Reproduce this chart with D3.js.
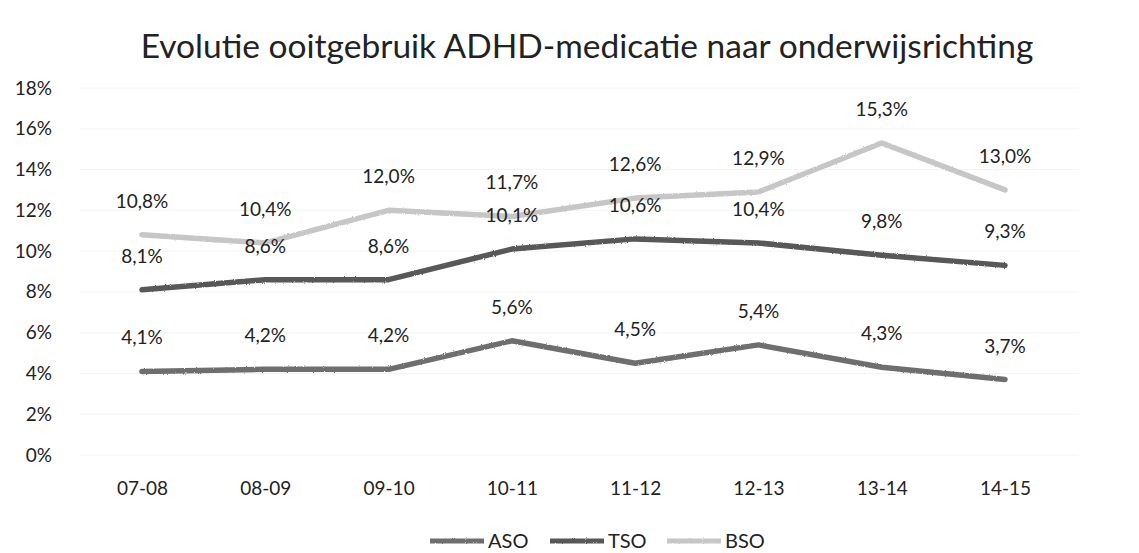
<!DOCTYPE html>
<html>
<head>
<meta charset="utf-8">
<script src="https://cdn.jsdelivr.net/npm/d3@7"></script>
<style>
  body { margin: 0; background: #fff; }
  svg { font-family: Lato, "Open Sans", sans-serif; }
</style>
</head>
<body>
<div id="chart"></div>
<script>
// categories (school years)
const years = ['07-08', '08-09', '09-10', '10-11', '11-12', '12-13', '13-14', '14-15'];

// series values (%)
const aso = [4.1, 4.2, 4.2, 5.6, 4.5, 5.4, 4.3, 3.7];
const tso = [8.1, 8.6, 8.6, 10.1, 10.6, 10.4, 9.8, 9.3];
const bso = [10.8, 10.4, 12.0, 11.7, 12.6, 12.9, 15.3, 13.0];

const yTicks = [0, 2, 4, 6, 8, 10, 12, 14, 16, 18];
const seriesNames = ['ASO', 'TSO', 'BSO'];
const seriesColors = ['#6e6e6e', '#585858', '#c6c6c6'];

const width = 1139;
const height = 553;
const margin = { top: 88, right: 134, bottom: 98, left: 142 };

const svg = d3.select('#chart')
  .append('svg')
  .attr('width', width)
  .attr('height', height);

// speckled "scanned" look for the lines
const defs = svg.append('defs');
const filt = defs.append('filter')
  .attr('id', 'grain')
  .attr('filterUnits', 'userSpaceOnUse')
  .attr('x', -width).attr('y', -height)
  .attr('width', width * 3).attr('height', height * 3);
filt.append('feTurbulence')
  .attr('type', 'fractalNoise')
  .attr('baseFrequency', 0.9)
  .attr('numOctaves', 1)
  .attr('result', 'noise');
filt.append('feDisplacementMap')
  .attr('in', 'SourceGraphic')
  .attr('in2', 'noise')
  .attr('scale', 2.5);

const x = d3.scalePoint()
  .domain(years)
  .range([margin.left, width - margin.right]);

const y = d3.scaleLinear()
  .domain([0, 18])
  .range([height - margin.bottom, margin.top]);

// title
svg.append('text')
  .attr('x', 587)
  .attr('y', 58)
  .attr('text-anchor', 'middle')
  .style('font-size', '33.5px')
  .style('fill', '#222')
  .text('Evolutie ooitgebruik ADHD-medicatie naar onderwijsrichting');

// faint gridlines
svg.append('g')
  .selectAll('line')
  .data(yTicks)
  .enter().append('line')
  .attr('x1', 80)
  .attr('x2', width - 60)
  .attr('y1', d => y(d))
  .attr('y2', d => y(d))
  .style('stroke', '#f4f4f4')
  .style('stroke-width', 1);

// Y axis
const yAxis = d3.axisLeft(y)
  .tickValues(yTicks)
  .tickFormat(d => d + '%')
  .tickSize(0)
  .tickPadding(0);

svg.append('g')
  .attr('class', 'y axis')
  .attr('transform', 'translate(52,0)')
  .call(yAxis)
  .call(g => g.select('.domain').remove())
  .selectAll('text')
  .style('font-size', '19px')
  .style('font-family', 'Lato, sans-serif')
  .style('fill', '#222');

// X axis
const xAxis = d3.axisBottom(x).tickSize(0).tickPadding(0);

svg.append('g')
  .attr('class', 'x axis')
  .attr('transform', `translate(0,${height - margin.bottom + 26})`)
  .call(xAxis)
  .call(g => g.select('.domain').remove())
  .selectAll('text')
  .style('font-size', '19px')
  .style('font-family', 'Lato, sans-serif')
  .style('fill', '#222');

const line = d3.line()
  .x((d, i) => x(years[i]))
  .y(d => y(d));

const allSeries = [aso, tso, bso];

// lines
allSeries.forEach((s, k) => {
  svg.append('path')
    .attr('class', 'line line' + k)
    .attr('d', line(s))
    .style('fill', 'none')
    .style('stroke', seriesColors[k])
    .style('stroke-width', 5.5)
    .style('stroke-linejoin', 'round')
    .style('stroke-linecap', 'round')
    .attr('filter', 'url(#grain)');
});

// data labels
const fmt = v => v.toFixed(1).replace('.', ',') + '%';
allSeries.forEach((s, k) => {
  svg.append('g')
    .selectAll('text')
    .data(s)
    .enter().append('text')
    .attr('x', (d, i) => x(years[i]))
    .attr('y', d => y(d) - 27)
    .attr('text-anchor', 'middle')
    .style('font-size', '19px')
    .style('fill', '#222')
    .text(d => fmt(d));
});

// legend
const legendX = [430, 550, 667];
const legend = svg.append('g').attr('class', 'legend');
seriesNames.forEach((n, k) => {
  const g = legend.append('g').attr('transform', `translate(${legendX[k]},541)`);
  g.append('line')
    .attr('x1', 0).attr('x2', 54)
    .attr('y1', 0).attr('y2', 0)
    .style('stroke', seriesColors[k])
    .style('stroke-width', 5)
    .attr('filter', 'url(#grain)');
  g.append('text')
    .attr('x', 58)
    .attr('y', 7)
    .style('font-size', '20px')
    .style('fill', '#222')
    .text(n);
});
</script>
</body>
</html>
